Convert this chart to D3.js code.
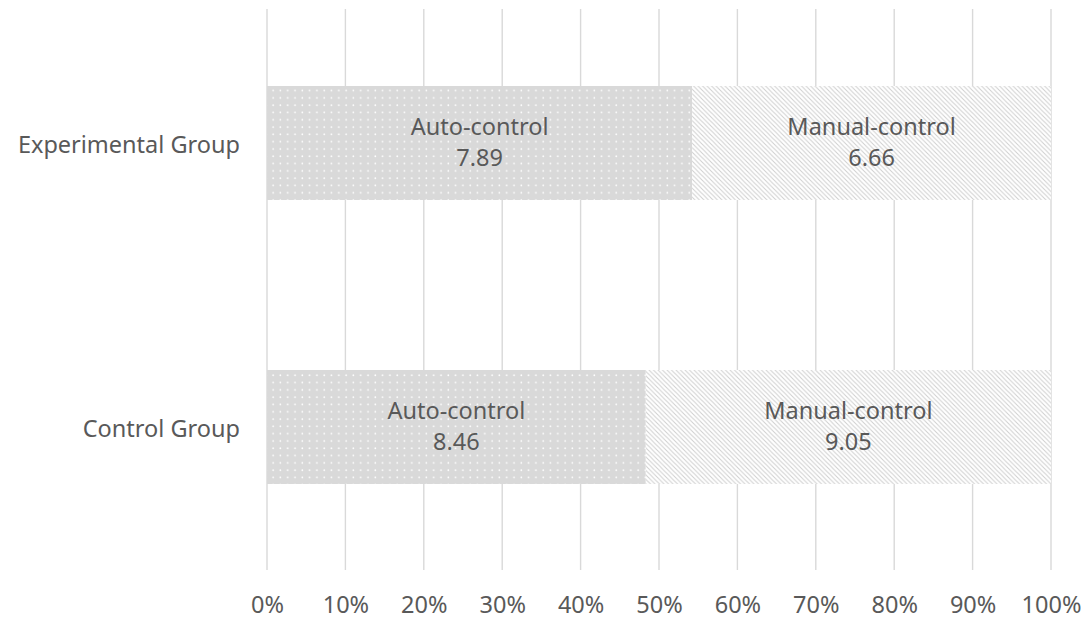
<!DOCTYPE html>
<html>
<head>
<meta charset="utf-8">
<script src="https://cdn.jsdelivr.net/npm/d3@7"></script>
<style>
  html, body { margin: 0; padding: 0; background: #fff; }
  svg text { font-family: "Segoe UI", "Noto Sans", sans-serif; fill: #595959; }
</style>
</head>
<body>
<svg id="chart" width="1090" height="622"></svg>
<script>
// Groups and the two control modes, values per group
const groups = ["Experimental Group", "Control Group"];
const modes = ["Auto-control", "Manual-control"];
const autoValues = [7.89, 8.46];
const manualValues = [6.66, 9.05];
const tickLabels = ["0%", "10%", "20%", "30%", "40%", "50%", "60%", "70%", "80%", "90%", "100%"];

const FONT = "\"Segoe UI\", \"Noto Sans\", sans-serif";
const FS = 23.5;

const svg = d3.select("#chart");
const defs = svg.append("defs");

// Dotted fill for the auto-control share
const dots = defs.append("pattern")
  .attr("id", "dots").attr("patternUnits", "userSpaceOnUse")
  .attr("width", 7.3).attr("height", 7.3);
dots.append("rect").attr("width", 7.3).attr("height", 7.3).attr("fill", "#d9d9d9");
dots.append("circle").attr("cx", 3).attr("cy", 3).attr("r", 0.85).attr("fill", "#ffffff");

// Diagonal hatch for the manual-control share
const hatch = defs.append("pattern")
  .attr("id", "hatch").attr("patternUnits", "userSpaceOnUse")
  .attr("width", 4.5).attr("height", 4.5);
hatch.append("rect").attr("width", 4.5).attr("height", 4.5).attr("fill", "#ffffff");
hatch.append("path").attr("d", "M-1,-1 L5.5,5.5 M-1,3.5 L1,5.5 M3.5,-1 L5.5,1")
  .attr("stroke", "#cfcfcf").attr("stroke-width", 1);

const x = d3.scaleLinear().domain([0, 1]).range([267, 1051]);
const y = d3.scaleBand().domain(groups).range([1, 569]).paddingInner(0.5986).paddingOuter(0.2993);

// Vertical gridlines
svg.append("g").selectAll("line")
  .data(d3.range(0, 1.0001, 0.1))
  .join("line")
  .attr("x1", d => x(d)).attr("x2", d => x(d))
  .attr("y1", 9).attr("y2", 570)
  .attr("stroke", "#d9d9d9").attr("stroke-width", 1.4);

// Stacked percentage segments
const rows = groups.map((g, i) => {
  const total = autoValues[i] + manualValues[i];
  return [
    { group: g, mode: modes[0], value: autoValues[i], x0: 0, x1: autoValues[i] / total, fill: "url(#dots)" },
    { group: g, mode: modes[1], value: manualValues[i], x0: autoValues[i] / total, x1: 1, fill: "url(#hatch)" }
  ];
}).flat();

svg.append("g").selectAll("rect")
  .data(rows)
  .join("rect")
  .attr("x", d => x(d.x0))
  .attr("width", d => x(d.x1) - x(d.x0))
  .attr("y", d => y(d.group))
  .attr("height", y.bandwidth())
  .attr("fill", d => d.fill);

// Segment labels: mode name and value
const lab = svg.append("g").selectAll("text")
  .data(rows)
  .join("text")
  .attr("text-anchor", "middle")
  .attr("font-size", FS)
  .attr("x", d => (x(d.x0) + x(d.x1)) / 2)
  .attr("y", d => y(d.group) + y.bandwidth() / 2);
lab.append("tspan").attr("x", d => (x(d.x0) + x(d.x1)) / 2).attr("dy", -8).text(d => d.mode);
lab.append("tspan").attr("x", d => (x(d.x0) + x(d.x1)) / 2).attr("dy", 31).text(d => d.value.toFixed(2));

// Category axis
const yAxis = svg.append("g")
  .attr("transform", "translate(240,0)")
  .call(d3.axisLeft(y).tickSize(0).tickPadding(0));
yAxis.select(".domain").remove();
yAxis.selectAll("text").attr("font-size", FS).attr("fill", "#595959").attr("dy", 10)
  .style("font-family", FONT);

// Percentage axis
const xAxis = svg.append("g")
  .attr("transform", "translate(0,613)")
  .call(d3.axisBottom(x).tickValues(d3.range(0, 1.0001, 0.1))
    .tickFormat((d, i) => tickLabels[i]).tickSize(0).tickPadding(0));
xAxis.select(".domain").remove();
xAxis.selectAll("text").attr("font-size", FS).attr("fill", "#595959").attr("y", 0).attr("dy", 0)
  .style("font-family", FONT);
</script>
</body>
</html>
